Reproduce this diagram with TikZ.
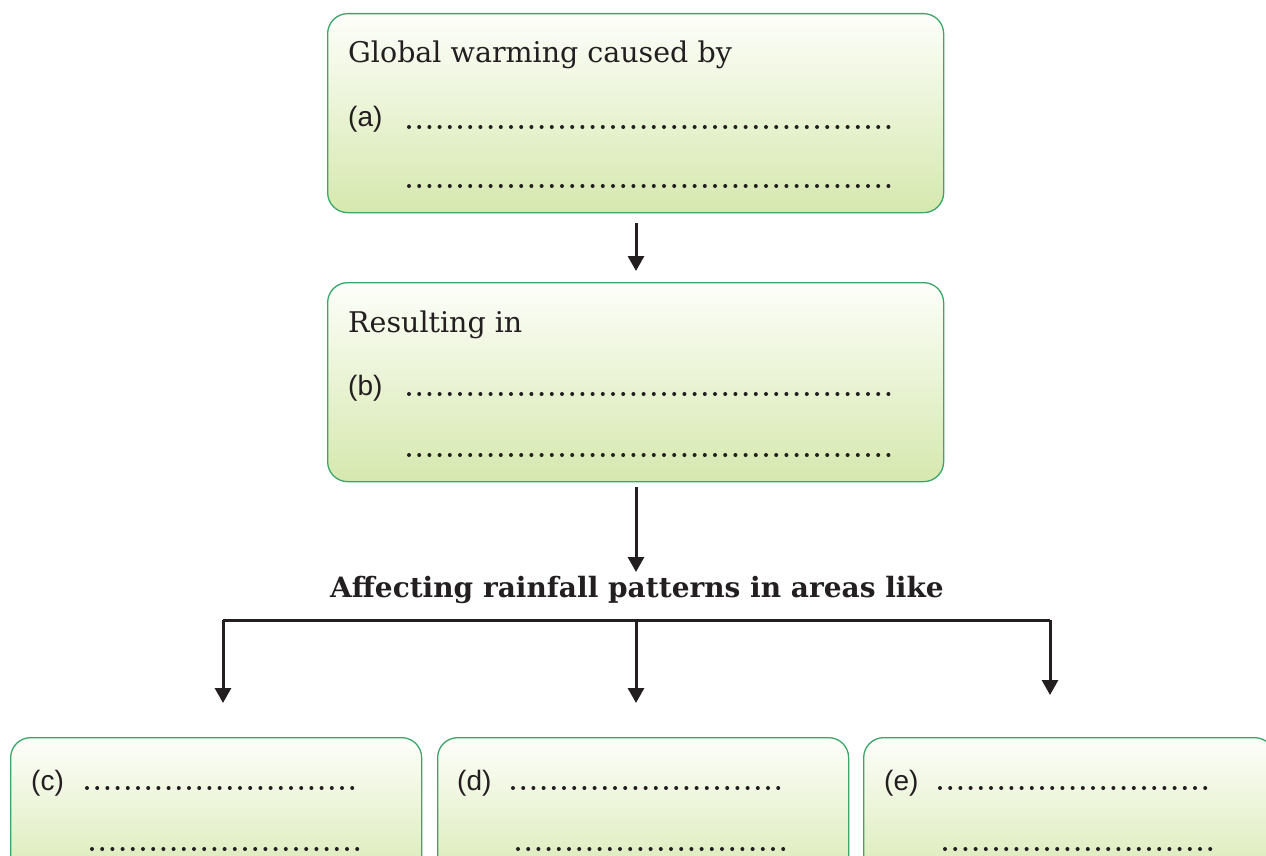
\documentclass[tikz,border=0pt]{standalone}
\usepackage{fontspec}
\setmainfont{DejaVu Serif}
\newfontfamily\labfont{Liberation Sans}
\usetikzlibrary{arrows.meta}
\definecolor{boxline}{HTML}{3AA66A}
\definecolor{boxtop}{HTML}{FDFEFA}
\definecolor{boxbot}{HTML}{D6E8AE}
\definecolor{ink}{HTML}{231F20}
\tikzset{
  greenbox/.style={draw=boxline, line width=1.3pt, rounded corners=20pt,
    top color=boxtop, bottom color=boxbot, anchor=north west, inner sep=0pt},
  bigbox/.style={greenbox, minimum width=616pt, minimum height=199pt},
  smallbox/.style={greenbox, minimum width=411pt, minimum height=160pt},
  headtxt/.style={anchor=base west, inner sep=0pt, text=ink, font=\fontsize{28.5}{34}\selectfont},
  labtxt/.style={anchor=base west, inner sep=0pt, text=ink, font=\labfont\fontsize{28}{34}\selectfont},
  dotline/.style={ink, line width=4pt, line cap=round, dash pattern=on 0pt off 10.2pt},
  arr/.style={ink, line width=3pt, -{Triangle[width=16pt,length=15pt]}},
  plain/.style={ink, line width=3pt},
}
\begin{document}
\begin{tikzpicture}[x=1pt,y=-1pt]
\useasboundingbox (0,0) rectangle (1266,856);
% top boxes
\node[bigbox] (A) at (327,13) {};
\node[bigbox] (B) at (327,282) {};
% bottom boxes
\node[smallbox] (C) at (10,737) {};
\node[smallbox] (D) at (437,737) {};
\node[smallbox] (E) at (863,737) {};
% texts box A
\node[headtxt] (tA) at (348,63) {Global warming caused by};
\node[labtxt] (la) at (348,127) {(a)};
\draw[dotline] (409,127) -- (890,127);
\draw[dotline] (409,186) -- (890,186);
% texts box B
\node[headtxt] (tB) at (348,332) {Resulting in};
\node[labtxt] (lb) at (348,395) {(b)};
\draw[dotline] (409,394) -- (890,394);
\draw[dotline] (409,455) -- (890,455);
% bottom labels
\node[labtxt] (lc) at (31,790) {(c)};
\draw[dotline] (87,788) -- (354,788);
\draw[dotline] (92,849) -- (359,849);
\node[labtxt] (ld) at (457,790) {(d)};
\draw[dotline] (513,788) -- (780,788);
\draw[dotline] (518,849) -- (785,849);
\node[labtxt] (le) at (884,790) {(e)};
\draw[dotline] (940,788) -- (1207,788);
\draw[dotline] (945,849) -- (1212,849);
% title
\node[anchor=base, inner sep=0pt, text=ink, font=\bfseries\fontsize{28}{34}\selectfont] (T) at (637,597) {Affecting rainfall patterns in areas like};
% connectors
\draw[arr, shorten <=10pt, shorten >=11pt] (A.south -| 636,0) -- (B.north -| 636,0);
\coordinate (bb) at (636,487);
\coordinate (tt) at (636,572);
\draw[arr] (bb) -- (tt);
\coordinate (jl) at (223,620);
\coordinate (jm) at (636,620);
\coordinate (jr) at (1050,620);
\coordinate (tc) at (223,703);
\coordinate (td) at (636,703);
\coordinate (te) at (1050,695);
\draw[plain] (jl) -- (jr);
\draw[arr] (jl) -- (tc);
\draw[arr] (jm) -- (td);
\draw[arr] (jr) -- (te);
\end{tikzpicture}
\end{document}
